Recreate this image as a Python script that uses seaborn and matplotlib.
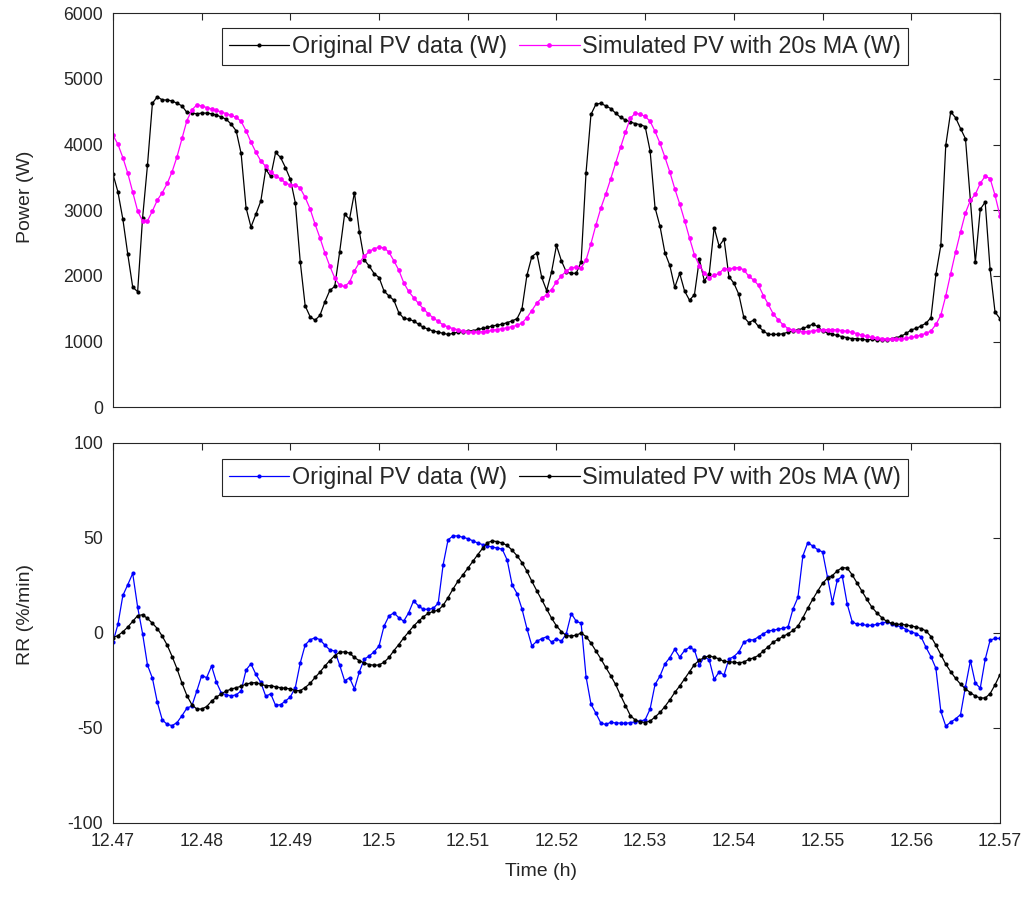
import numpy as np
import matplotlib
matplotlib.use("Agg")
import matplotlib.pyplot as plt
import seaborn as sns

# Sampling: one value every 2 s between 12.47 h and 12.57 h
t_start_h = 12.47
step_s = 2
n_samples = 181
time_h = t_start_h + np.arange(n_samples) * step_s / 3600.0

# PV output power (W)
pv_original = [
    3550, 3280, 2865, 2330, 1830, 1760, 2880, 3690, 4630, 4730,
    4680, 4680, 4665, 4630, 4590, 4490, 4480, 4470, 4480, 4480,
    4470, 4450, 4420, 4385, 4310, 4210, 3865, 3040, 2745, 2940,
    3140, 3625, 3515, 3880, 3805, 3650, 3470, 3115, 2215, 1545,
    1380, 1325, 1400, 1605, 1780, 1840, 2365, 2940, 2865, 3270,
    2670, 2245, 2150, 2035, 1975, 1770, 1695, 1630, 1440, 1355,
    1340, 1315, 1265, 1215, 1190, 1160, 1145, 1125, 1110, 1125,
    1145, 1150, 1160, 1165, 1185, 1200, 1215, 1240, 1250, 1265,
    1290, 1315, 1350, 1500, 2010, 2295, 2350, 1980, 1775, 2060,
    2465, 2230, 2060, 2040, 2040, 2215, 3575, 4460, 4615, 4630,
    4590, 4550, 4480, 4415, 4375, 4345, 4320, 4305, 4275, 3905,
    3040, 2760, 2355, 2160, 1825, 2040, 1770, 1630, 1715, 2255,
    1925, 2035, 2735, 2455, 2560, 1990, 1890, 1720, 1375, 1290,
    1325, 1230, 1160, 1110, 1110, 1110, 1120, 1145, 1160, 1180,
    1200, 1230, 1265, 1230, 1160, 1135, 1110, 1095, 1075, 1060,
    1045, 1045, 1035, 1025, 1035, 1025, 1025, 1025, 1045, 1060,
    1085, 1125, 1180, 1200, 1240, 1280, 1365, 2025, 2465, 3990,
    4500, 4410, 4245, 4090, 3150, 2205, 3015, 3125, 2100, 1450,
    1350,
]

pv_ma20 = [
    4143, 4005, 3802, 3564, 3279, 2990, 2838, 2838, 2990, 3155,
    3268, 3408, 3588, 3818, 4094, 4367, 4527, 4605, 4590, 4565,
    4544, 4521, 4496, 4472, 4444, 4416, 4354, 4211, 4038, 3884,
    3751, 3668, 3578, 3527, 3477, 3421, 3381, 3389, 3336, 3196,
    3020, 2790, 2579, 2351, 2149, 1968, 1857, 1840, 1905, 2077,
    2206, 2298, 2373, 2416, 2436, 2429, 2362, 2231, 2088, 1897,
    1764, 1671, 1582, 1500, 1422, 1361, 1306, 1255, 1222, 1199,
    1180, 1163, 1153, 1148, 1147, 1151, 1158, 1170, 1184, 1198,
    1212, 1229, 1248, 1281, 1364, 1473, 1587, 1661, 1713, 1793,
    1910, 2002, 2073, 2127, 2130, 2122, 2244, 2492, 2776, 3033,
    3246, 3478, 3720, 3957, 4191, 4404, 4478, 4463, 4429, 4356,
    4201, 4022, 3810, 3584, 3329, 3099, 2844, 2576, 2320, 2155,
    2044, 1971, 2009, 2039, 2112, 2107, 2119, 2128, 2094, 1998,
    1938, 1857, 1700, 1565, 1420, 1332, 1255, 1198, 1176, 1165,
    1153, 1153, 1163, 1175, 1180, 1183, 1182, 1177, 1168, 1156,
    1141, 1122, 1099, 1079, 1066, 1055, 1047, 1040, 1037, 1037,
    1041, 1049, 1063, 1081, 1101, 1127, 1161, 1261, 1403, 1696,
    2037, 2366, 2672, 2961, 3152, 3245, 3410, 3520, 3483, 3229,
    2914,
]

# Ramp rate (%/min)
rr_original = [
    -4.8, 4.4, 19.6, 25.3, 31.2, 13.5, -0.4, -17.0, -23.9, -36.6,
    -45.8, -48.2, -48.8, -47.2, -43.6, -39.6, -38.5, -30.7, -22.5, -23.6,
    -17.5, -26.0, -31.8, -32.6, -33.2, -32.6, -30.6, -19.6, -16.3, -21.9,
    -26.1, -33.4, -32.1, -38.2, -37.8, -35.9, -33.7, -28.8, -15.9, -6.4,
    -3.7, -2.6, -3.6, -6.5, -9.0, -9.6, -17.0, -25.2, -23.7, -29.5,
    -20.5, -13.9, -12.2, -10.0, -6.9, 3.5, 8.8, 10.5, 7.9, 6.1,
    10.5, 16.8, 14.1, 12.3, 12.4, 12.8, 15.6, 35.8, 48.9, 50.9,
    50.9, 50.2, 49.5, 48.4, 47.2, 46.4, 45.7, 45.0, 44.6, 43.9,
    38.2, 25.2, 20.6, 12.5, 2.2, -6.9, -4.5, -3.1, -2.1, -5.0,
    -3.1, -4.5, -0.4, 10.1, 6.1, 5.0, -23.1, -37.5, -42.3, -47.5,
    -48.2, -47.1, -47.4, -47.5, -47.7, -47.2, -46.9, -46.5, -45.7, -40.1,
    -27.2, -22.8, -16.4, -13.1, -8.7, -12.8, -9.3, -7.6, -9.1, -17.2,
    -12.5, -14.3, -24.5, -20.6, -22.2, -13.8, -12.5, -10.1, -5.1, -3.6,
    -3.8, -2.1, -0.5, 1.0, 1.3, 1.9, 2.3, 3.2, 12.5, 18.6,
    40.4, 47.4, 45.6, 43.7, 42.5, 29.2, 15.9, 27.8, 29.7, 15.1,
    5.9, 4.4, 4.4, 3.9, 3.9, 4.4, 5.1, 5.7, 4.8, 3.9,
    3.0, 1.7, 0.4, -0.4, -2.2, -7.7, -12.6, -18.7, -41.3, -49.1,
    -47.0, -45.3, -43.0, -28.3, -14.7, -26.5, -29.1, -14.0, -3.9, -3.0,
    -3.0,
]

rr_ma20 = [
    -2.5, -1.5, 0.5, 3.0, 6.0, 9.0, 9.5, 7.5, 5.0, 2.2,
    -1.8, -6.5, -12.5, -19.0, -26.5, -33.0, -37.8, -40.1, -40.1, -38.8,
    -36.0, -33.8, -32.1, -30.6, -29.6, -28.9, -28.1, -27.0, -26.4, -26.2,
    -27.1, -27.8, -27.8, -28.4, -28.9, -29.2, -29.5, -30.4, -30.4, -28.8,
    -26.6, -23.5, -20.7, -17.5, -14.6, -12.0, -10.3, -10.0, -10.7, -13.0,
    -14.7, -15.9, -16.7, -17.1, -16.9, -15.5, -13.0, -9.4, -6.2, -2.7,
    0.4, 3.5, 6.1, 8.4, 10.3, 11.2, 11.9, 14.4, 18.5, 23.0,
    27.1, 30.4, 33.9, 37.5, 41.0, 44.4, 47.4, 48.3, 47.9, 47.2,
    45.9, 43.4, 40.5, 36.9, 32.4, 27.1, 22.1, 17.3, 12.6, 7.7,
    3.6, 0.6, -1.5, -1.7, -1.3, -0.1, -2.0, -5.4, -9.5, -13.7,
    -18.2, -22.5, -27.2, -32.9, -38.3, -43.6, -45.9, -46.8, -47.2, -46.4,
    -44.3, -41.9, -38.8, -35.3, -31.4, -28.0, -24.2, -20.4, -16.7, -14.4,
    -13.0, -12.1, -12.9, -13.7, -15.1, -15.2, -15.5, -15.8, -15.4, -14.0,
    -13.2, -11.9, -9.5, -7.3, -4.9, -3.4, -1.9, -0.5, 1.2, 3.5,
    7.9, 12.9, 17.6, 21.9, 26.0, 28.7, 30.1, 32.6, 34.3, 34.0,
    30.5, 26.2, 22.0, 17.5, 13.5, 10.5, 8.0, 6.0, 5.0, 4.5,
    4.4, 4.1, 3.6, 3.0, 2.2, 1.0, -2.0, -6.5, -11.5, -16.5,
    -20.5, -24.0, -27.0, -29.5, -31.5, -33.3, -34.3, -34.3, -32.0, -27.4,
    -22.0,
]

x_ticks = [12.47, 12.48, 12.49, 12.50, 12.51, 12.52, 12.53, 12.54, 12.55, 12.56, 12.57]
x_tick_labels = ["12.47", "12.48", "12.49", "12.5", "12.51", "12.52",
                 "12.53", "12.54", "12.55", "12.56", "12.57"]
power_ticks = [0, 1000, 2000, 3000, 4000, 5000, 6000]
rr_ticks = [-100, -50, 0, 50, 100]

label_orig = "Original PV data (W)"
label_ma = "Simulated PV with 20s MA (W)"

sns.set_theme(style="white")
plt.rcParams["font.family"] = ["Liberation Sans", "DejaVu Sans"]

AXIS_COLOR = "#262626"
fig = plt.figure(figsize=(10.31, 8.99), dpi=100)
ax1 = fig.add_axes([0.1096, 0.5470, 0.8603, 0.4382])
ax2 = fig.add_axes([0.1096, 0.0846, 0.8603, 0.4231])

line_kw = dict(linewidth=0.9, marker="o", markeredgewidth=0, errorbar=None)

sns.lineplot(x=time_h, y=pv_original, ax=ax1, color="black",
             markersize=3.0, label=label_orig, **line_kw)
sns.lineplot(x=time_h, y=pv_ma20, ax=ax1, color="#FF00FF",
             markersize=3.4, label=label_ma, **line_kw)

sns.lineplot(x=time_h, y=rr_original, ax=ax2, color="#0000FF",
             markersize=3.0, label=label_orig, **line_kw)
sns.lineplot(x=time_h, y=rr_ma20, ax=ax2, color="black",
             markersize=3.0, label=label_ma, **line_kw)

for ax in (ax1, ax2):
    ax.set_xlim(12.47, 12.57)
    ax.set_xticks(x_ticks)
    ax.tick_params(direction="in", top=True, right=True, length=5, width=0.8,
                   colors=AXIS_COLOR, labelsize=12.7, labelcolor="#262626", pad=7)
    for sp in ax.spines.values():
        sp.set_color(AXIS_COLOR)
        sp.set_linewidth(0.8)
    ax.grid(False)

ax1.set_ylim(0, 6000)
ax1.set_yticks(power_ticks)
ax1.set_yticklabels([str(v) for v in power_ticks])
ax1.set_xticklabels([])
ax1.set_ylabel("Power (W)", fontsize=14, color="#262626")
ax1.yaxis.set_label_coords(-0.089, 0.534)

ax2.set_ylim(-100, 100)
ax2.set_yticks(rr_ticks)
ax2.set_yticklabels([str(v) for v in rr_ticks])
ax2.set_xticklabels(x_tick_labels)
ax2.set_ylabel("RR (%/min)", fontsize=14, color="#262626")
ax2.yaxis.set_label_coords(-0.089, 0.547)
ax2.set_xlabel("Time (h)", fontsize=14, color="#262626")
ax2.xaxis.set_label_coords(0.4825, -0.105)

legend_kw = dict(loc="upper center", ncol=2, fontsize=16.8, frameon=True,
                 fancybox=False, framealpha=1, edgecolor=AXIS_COLOR,
                 handlelength=2.6, handletextpad=0.12, columnspacing=0.5,
                 borderpad=0.3, borderaxespad=0)
leg1 = ax1.legend(bbox_to_anchor=(0.5096, 0.963), **legend_kw)
leg2 = ax2.legend(bbox_to_anchor=(0.5096, 0.957), **legend_kw)
for leg in (leg1, leg2):
    leg.get_frame().set_linewidth(0.8)

fig.savefig("out.png", dpi=100, facecolor="white")
